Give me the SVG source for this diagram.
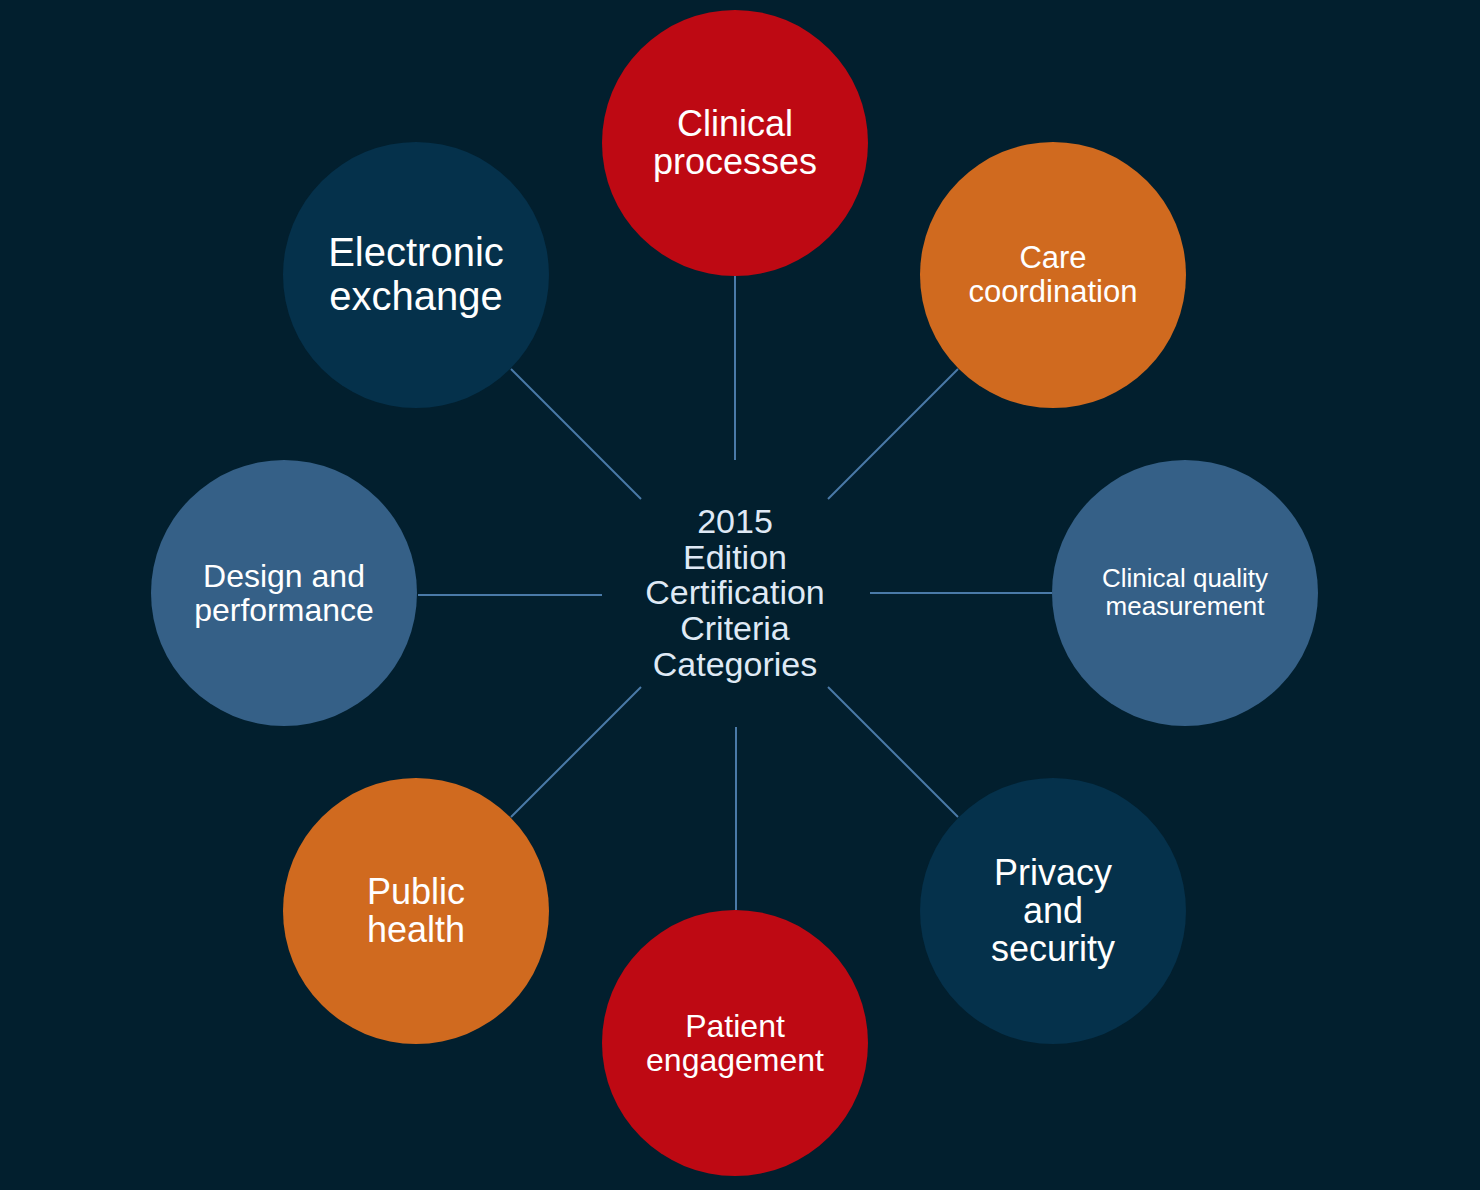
<svg xmlns="http://www.w3.org/2000/svg" width="1480" height="1190" viewBox="0 0 1480 1190">
<style>
.bg{fill:#021f2e}
.red{fill:#be0913}
.orange{fill:#d06a1f}
.mid{fill:#356087}
.dark{fill:#05314b}
text{font-family:"Liberation Sans",Arial,sans-serif;fill:#ffffff;text-anchor:middle}
.ctr{fill:#dfe9f5}
.conn line{stroke:#4a7aa8;stroke-width:2}
</style>
<rect class="bg" x="0" y="0" width="1480" height="1190"/>
<g id="connectors" class="conn">
<line x1="735" y1="276" x2="735" y2="460"/>
<line x1="958" y1="369" x2="828" y2="499"/>
<line x1="870" y1="593" x2="1052" y2="593"/>
<line x1="828" y1="687" x2="958" y2="817"/>
<line x1="736" y1="727" x2="736" y2="910"/>
<line x1="641" y1="687" x2="511" y2="817"/>
<line x1="418" y1="595" x2="602" y2="595"/>
<line x1="511" y1="369" x2="641" y2="499"/>
</g>
<g id="center">
<text class="ctr" font-size="34"><tspan x="735" y="533">2015</tspan><tspan x="735" y="569">Edition</tspan><tspan x="735" y="604">Certification</tspan><tspan x="735" y="640">Criteria</tspan><tspan x="735" y="676">Categories</tspan></text>
</g>
<g id="clinical-processes">
<circle class="red" cx="735" cy="143" r="133"/>
<text font-size="36"><tspan x="735" y="136">Clinical</tspan><tspan x="735" y="174">processes</tspan></text>
</g>
<g id="care-coordination">
<circle class="orange" cx="1053" cy="275" r="133"/>
<text font-size="31"><tspan x="1053" y="268">Care</tspan><tspan x="1053" y="302">coordination</tspan></text>
</g>
<g id="clinical-quality">
<circle class="mid" cx="1185" cy="593" r="133"/>
<text font-size="26"><tspan x="1185" y="587">Clinical quality</tspan><tspan x="1185" y="615">measurement</tspan></text>
</g>
<g id="privacy-security">
<circle class="dark" cx="1053" cy="911" r="133"/>
<text font-size="36"><tspan x="1053" y="885">Privacy</tspan><tspan x="1053" y="923">and</tspan><tspan x="1053" y="961">security</tspan></text>
</g>
<g id="patient-engagement">
<circle class="red" cx="735" cy="1043" r="133"/>
<text font-size="32"><tspan x="735" y="1037">Patient</tspan><tspan x="735" y="1071">engagement</tspan></text>
</g>
<g id="public-health">
<circle class="orange" cx="416" cy="911" r="133"/>
<text font-size="36"><tspan x="416" y="904">Public</tspan><tspan x="416" y="942">health</tspan></text>
</g>
<g id="design-performance">
<circle class="mid" cx="284" cy="593" r="133"/>
<text font-size="32"><tspan x="284" y="587">Design and</tspan><tspan x="284" y="621">performance</tspan></text>
</g>
<g id="electronic-exchange">
<circle class="dark" cx="416" cy="275" r="133"/>
<text font-size="40"><tspan x="416" y="266">Electronic</tspan><tspan x="416" y="310">exchange</tspan></text>
</g>
</svg>
